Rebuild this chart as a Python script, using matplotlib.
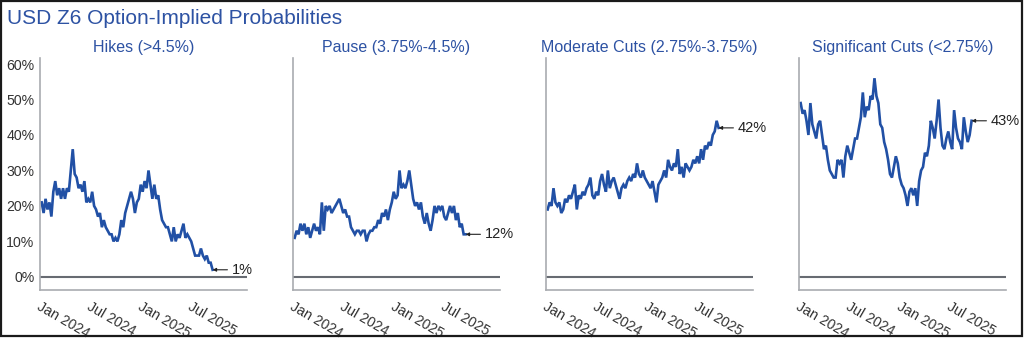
import matplotlib
matplotlib.use('Agg')
import matplotlib.pyplot as plt
import numpy as np
import pandas as pd
from matplotlib.patches import Rectangle

plt.rcParams['font.family'] = ['Liberation Sans', 'DejaVu Sans']

# weekly observations, Jan 2024 to Sep 2025 (values in %)
dates = pd.date_range('2024-01-03', periods=89, freq='7D')

hikes = [21, 18, 22, 19, 21, 17, 24, 27, 23, 25, 22, 25, 22, 25, 24, 30, 36, 29, 28, 25,
         26, 24, 27, 21, 22, 21, 24, 20, 19, 17, 18, 14, 16, 14, 13, 12, 12, 10, 11, 10,
         12, 16, 14, 18, 20, 22, 24, 22, 18, 21, 22, 26, 24, 27, 25, 30, 26, 22, 26, 22,
         23, 19, 16, 15, 14, 14, 12, 10, 14, 10, 12, 11, 13, 15, 11, 12, 11, 10, 8, 6,
         6, 6, 8, 6, 5, 6, 4, 4, 2]

pause = [11, 13, 12, 15, 13, 15, 12, 14, 11, 13, 15, 13, 14, 12, 21, 13, 20, 19, 20, 18,
         19, 20, 21, 22, 20, 18, 19, 17, 17, 14, 13, 12, 13, 13, 12, 13, 13, 10, 12, 13,
         13, 14, 14, 16, 15, 18, 17, 19, 16, 19, 21, 24, 22, 23, 30, 25, 26, 25, 27, 30,
         26, 22, 20, 21, 19, 21, 17, 15, 18, 15, 13, 16, 20, 18, 20, 19, 20, 17, 16, 18,
         20, 18, 20, 16, 18, 14, 15, 12, 12]

moderate = [19, 21, 20, 25, 21, 20, 21, 18, 19, 22, 21, 23, 22, 24, 26, 19, 23, 22, 24, 23,
            25, 26, 28, 23, 22, 24, 23, 27, 29, 26, 24, 30, 25, 27, 28, 26, 24, 22, 25, 26,
            25, 27, 28, 27, 29, 28, 32, 29, 28, 30, 28, 27, 26, 25, 27, 24, 21, 26, 27, 28,
            30, 28, 33, 31, 30, 32, 31, 36, 29, 31, 28, 32, 31, 30, 31, 33, 32, 34, 32, 36,
            33, 37, 36, 38, 37, 40, 41, 44, 42]

significant = [49, 46, 47, 44, 40, 49, 43, 41, 39, 43, 44, 40, 36, 37, 33, 30, 29, 28, 28, 33,
               32, 33, 28, 34, 37, 35, 33, 36, 39, 39, 42, 45, 52, 45, 48, 47, 51, 50, 56, 51,
               49, 43, 42, 38, 36, 33, 29, 28, 31, 34, 32, 28, 26, 25, 23, 20, 24, 25, 23, 25,
               20, 27, 30, 31, 35, 34, 37, 44, 42, 39, 44, 50, 42, 37, 36, 39, 41, 38, 36, 47,
               42, 39, 38, 36, 45, 41, 38, 40, 44]

titles = ['Hikes (>4.5%)', 'Pause (3.75%-4.5%)', 'Moderate Cuts (2.75%-3.75%)',
          'Significant Cuts (<2.75%)']
end_labels = ['1%', '12%', '42%', '43%']
series = [hikes, pause, moderate, significant]

yticks = [0, 10, 20, 30, 40, 50, 60]
xticks = pd.to_datetime(['2024-01-01', '2024-07-01', '2025-01-01', '2025-07-01'])
xtick_labels = ['Jan 2024', 'Jul 2024', 'Jan 2025', 'Jul 2025']

blue = '#2150a5'
title_blue = '#2d52a3'
spine_grey = '#a9acb0'

fig = plt.figure(figsize=(10.24, 3.4), dpi=100)

fig.text(7 / 1024, 1 - 24 / 340, 'USD Z6 Option-Implied Probabilities',
         ha='left', va='baseline', fontsize=15, color=title_blue)

lefts = [40, 293, 546, 799]
for i in range(4):
    ax = fig.add_axes([lefts[i] / 1024, 50 / 340, 207 / 1024, 232 / 340])
    ax.plot(dates, series[i], color=blue, lw=1.9, solid_joinstyle='miter')
    ax.axhline(0, color='#676b72', lw=1.5)

    ax.set_ylim(-3.7, 61.7)
    ax.set_xlim(pd.Timestamp('2023-12-28'), pd.Timestamp('2026-01-12'))

    ax.spines['top'].set_visible(False)
    ax.spines['right'].set_visible(False)
    ax.spines['left'].set_color(spine_grey)
    ax.spines['bottom'].set_color(spine_grey)
    ax.spines['left'].set_linewidth(1.2)
    ax.spines['bottom'].set_linewidth(1.2)

    ax.set_yticks(yticks)
    if i == 0:
        ax.set_yticklabels([str(v) + '%' for v in yticks])
    else:
        ax.set_yticklabels([])
    ax.set_xticks(xticks)
    ax.set_xticklabels(xtick_labels, rotation=-30, ha='left', va='top',
                       rotation_mode='anchor')
    ax.tick_params(length=0, labelsize=10.2, labelcolor='#333333')
    ax.tick_params(axis='y', pad=4)
    ax.tick_params(axis='x', pad=7)

    ax.set_title(titles[i], fontsize=11.5, color=title_blue, pad=4)

    ax.annotate(end_labels[i], xy=(dates[-1], series[i][-1]),
                xytext=(19, 0), textcoords='offset pixels',
                ha='left', va='center', fontsize=10.5, color='#222222',
                arrowprops=dict(arrowstyle='-|>', color='#222222', lw=0.8,
                                mutation_scale=5, shrinkA=1, shrinkB=0),
                annotation_clip=False)

fig.patches.append(Rectangle((1 / 1024, 4 / 340), 1021 / 1024, 335 / 340,
                             transform=fig.transFigure, fill=False,
                             edgecolor='#1a1a1a', lw=1.6))

plt.savefig('out.png', dpi=100)
